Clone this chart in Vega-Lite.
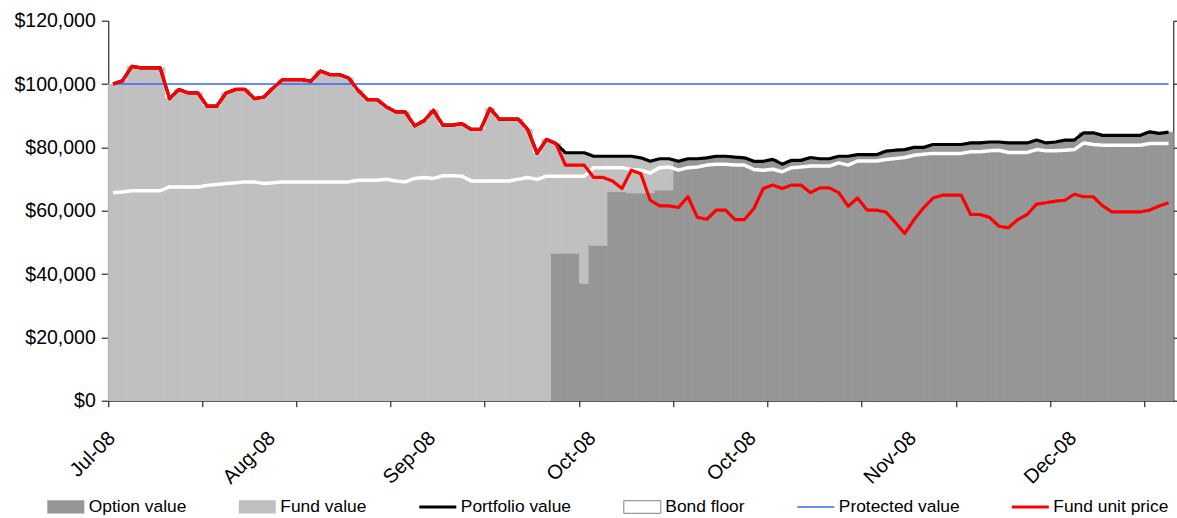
{
  "$schema": "https://vega.github.io/schema/vega-lite/v6.json",
  "width": 1065,
  "height": 380,
  "autosize": "none",
  "padding": {"left": 108.3, "top": 20.7, "right": 3.7, "bottom": 117.3},
  "background": "white",
  "config": {
    "view": {"stroke": null},
    "font": "Liberation Sans",
    "axis": {"grid": false, "domainColor": "#000000", "tickColor": "#000000", "labelColor": "#000000", "domainWidth": 1, "tickWidth": 1, "labelFont": "Liberation Sans"}
  },
  "data": {"values": [
    {"i":0,"price":100000,"port":100000,"bond":65700,"prot":100000,"Option value":0,"Fund value":100000},
    {"i":1,"price":101000,"port":101000,"bond":65900,"prot":100000,"Option value":0,"Fund value":101000},
    {"i":2,"price":105600,"port":105600,"bond":66300,"prot":100000,"Option value":0,"Fund value":105600},
    {"i":3,"price":105100,"port":105100,"bond":66300,"prot":100000,"Option value":0,"Fund value":105100},
    {"i":4,"price":105100,"port":105100,"bond":66300,"prot":100000,"Option value":0,"Fund value":105100},
    {"i":5,"price":105100,"port":105100,"bond":66300,"prot":100000,"Option value":0,"Fund value":105100},
    {"i":6,"price":95400,"port":95400,"bond":67500,"prot":100000,"Option value":0,"Fund value":95400},
    {"i":7,"price":98300,"port":98300,"bond":67500,"prot":100000,"Option value":0,"Fund value":98300},
    {"i":8,"price":97200,"port":97200,"bond":67500,"prot":100000,"Option value":0,"Fund value":97200},
    {"i":9,"price":97200,"port":97200,"bond":67500,"prot":100000,"Option value":0,"Fund value":97200},
    {"i":10,"price":93000,"port":93000,"bond":68000,"prot":100000,"Option value":0,"Fund value":93000},
    {"i":11,"price":93000,"port":93000,"bond":68300,"prot":100000,"Option value":0,"Fund value":93000},
    {"i":12,"price":97200,"port":97200,"bond":68600,"prot":100000,"Option value":0,"Fund value":97200},
    {"i":13,"price":98300,"port":98300,"bond":68800,"prot":100000,"Option value":0,"Fund value":98300},
    {"i":14,"price":98300,"port":98300,"bond":69100,"prot":100000,"Option value":0,"Fund value":98300},
    {"i":15,"price":95400,"port":95400,"bond":69100,"prot":100000,"Option value":0,"Fund value":95400},
    {"i":16,"price":95900,"port":95900,"bond":68600,"prot":100000,"Option value":0,"Fund value":95900},
    {"i":17,"price":98800,"port":98800,"bond":68800,"prot":100000,"Option value":0,"Fund value":98800},
    {"i":18,"price":101400,"port":101400,"bond":69100,"prot":100000,"Option value":0,"Fund value":101400},
    {"i":19,"price":101400,"port":101400,"bond":69100,"prot":100000,"Option value":0,"Fund value":101400},
    {"i":20,"price":101400,"port":101400,"bond":69100,"prot":100000,"Option value":0,"Fund value":101400},
    {"i":21,"price":100900,"port":100900,"bond":69100,"prot":100000,"Option value":0,"Fund value":100900},
    {"i":22,"price":104100,"port":104100,"bond":69100,"prot":100000,"Option value":0,"Fund value":104100},
    {"i":23,"price":103000,"port":103000,"bond":69100,"prot":100000,"Option value":0,"Fund value":103000},
    {"i":24,"price":103000,"port":103000,"bond":69100,"prot":100000,"Option value":0,"Fund value":103000},
    {"i":25,"price":101900,"port":101900,"bond":69100,"prot":100000,"Option value":0,"Fund value":101900},
    {"i":26,"price":98000,"port":98000,"bond":69600,"prot":100000,"Option value":0,"Fund value":98000},
    {"i":27,"price":95100,"port":95100,"bond":69600,"prot":100000,"Option value":0,"Fund value":95100},
    {"i":28,"price":95100,"port":95100,"bond":69600,"prot":100000,"Option value":0,"Fund value":95100},
    {"i":29,"price":92800,"port":92800,"bond":69900,"prot":100000,"Option value":0,"Fund value":92800},
    {"i":30,"price":91200,"port":91200,"bond":69400,"prot":100000,"Option value":0,"Fund value":91200},
    {"i":31,"price":91200,"port":91200,"bond":69100,"prot":100000,"Option value":0,"Fund value":91200},
    {"i":32,"price":86800,"port":86800,"bond":70200,"prot":100000,"Option value":0,"Fund value":86800},
    {"i":33,"price":88400,"port":88400,"bond":70500,"prot":100000,"Option value":0,"Fund value":88400},
    {"i":34,"price":91700,"port":91700,"bond":70200,"prot":100000,"Option value":0,"Fund value":91700},
    {"i":35,"price":87000,"port":87000,"bond":71000,"prot":100000,"Option value":0,"Fund value":87000},
    {"i":36,"price":87000,"port":87000,"bond":71000,"prot":100000,"Option value":0,"Fund value":87000},
    {"i":37,"price":87500,"port":87500,"bond":70900,"prot":100000,"Option value":0,"Fund value":87500},
    {"i":38,"price":85700,"port":85700,"bond":69400,"prot":100000,"Option value":0,"Fund value":85700},
    {"i":39,"price":85700,"port":85700,"bond":69400,"prot":100000,"Option value":0,"Fund value":85700},
    {"i":40,"price":92300,"port":92300,"bond":69400,"prot":100000,"Option value":0,"Fund value":92300},
    {"i":41,"price":88900,"port":88900,"bond":69400,"prot":100000,"Option value":0,"Fund value":88900},
    {"i":42,"price":88900,"port":88900,"bond":69400,"prot":100000,"Option value":0,"Fund value":88900},
    {"i":43,"price":88900,"port":88900,"bond":69900,"prot":100000,"Option value":0,"Fund value":88900},
    {"i":44,"price":85700,"port":85700,"bond":70500,"prot":100000,"Option value":0,"Fund value":85700},
    {"i":45,"price":78100,"port":78100,"bond":69900,"prot":100000,"Option value":0,"Fund value":78100},
    {"i":46,"price":82500,"port":82500,"bond":70900,"prot":100000,"Option value":0,"Fund value":82500},
    {"i":47,"price":81200,"port":81200,"bond":70900,"prot":100000,"Option value":46600,"Fund value":34600},
    {"i":48,"price":74400,"port":78300,"bond":70900,"prot":100000,"Option value":46600,"Fund value":31700},
    {"i":49,"price":74400,"port":78300,"bond":70900,"prot":100000,"Option value":46600,"Fund value":31700},
    {"i":50,"price":74400,"port":78300,"bond":70900,"prot":100000,"Option value":37100,"Fund value":41200},
    {"i":51,"price":70500,"port":77200,"bond":73600,"prot":100000,"Option value":49100,"Fund value":28100},
    {"i":52,"price":70500,"port":77200,"bond":73600,"prot":100000,"Option value":49100,"Fund value":28100},
    {"i":53,"price":69400,"port":77200,"bond":73600,"prot":100000,"Option value":66000,"Fund value":11200},
    {"i":54,"price":67000,"port":77200,"bond":73600,"prot":100000,"Option value":66000,"Fund value":11200},
    {"i":55,"price":72800,"port":77200,"bond":73000,"prot":100000,"Option value":65600,"Fund value":11600},
    {"i":56,"price":71700,"port":76700,"bond":72800,"prot":100000,"Option value":65600,"Fund value":11100},
    {"i":57,"price":63300,"port":75600,"bond":71900,"prot":100000,"Option value":65600,"Fund value":10000},
    {"i":58,"price":61500,"port":76400,"bond":73600,"prot":100000,"Option value":66500,"Fund value":9900},
    {"i":59,"price":61500,"port":76400,"bond":73800,"prot":100000,"Option value":66500,"Fund value":9900},
    {"i":60,"price":61000,"port":75600,"bond":72800,"prot":100000,"Option value":75600,"Fund value":0},
    {"i":61,"price":64400,"port":76400,"bond":73600,"prot":100000,"Option value":76400,"Fund value":0},
    {"i":62,"price":57900,"port":76400,"bond":73800,"prot":100000,"Option value":76400,"Fund value":0},
    {"i":63,"price":57300,"port":76700,"bond":74400,"prot":100000,"Option value":76700,"Fund value":0},
    {"i":64,"price":60200,"port":77200,"bond":74700,"prot":100000,"Option value":77200,"Fund value":0},
    {"i":65,"price":60200,"port":77200,"bond":74700,"prot":100000,"Option value":77200,"Fund value":0},
    {"i":66,"price":57200,"port":76900,"bond":74400,"prot":100000,"Option value":76900,"Fund value":0},
    {"i":67,"price":57200,"port":76700,"bond":74400,"prot":100000,"Option value":76700,"Fund value":0},
    {"i":68,"price":60700,"port":75600,"bond":73000,"prot":100000,"Option value":75600,"Fund value":0},
    {"i":69,"price":67000,"port":75600,"bond":72800,"prot":100000,"Option value":75600,"Fund value":0},
    {"i":70,"price":68100,"port":76200,"bond":73100,"prot":100000,"Option value":76200,"Fund value":0},
    {"i":71,"price":67000,"port":74700,"bond":72300,"prot":100000,"Option value":74700,"Fund value":0},
    {"i":72,"price":68100,"port":75900,"bond":73600,"prot":100000,"Option value":75900,"Fund value":0},
    {"i":73,"price":68100,"port":75900,"bond":73800,"prot":100000,"Option value":75900,"Fund value":0},
    {"i":74,"price":65700,"port":76800,"bond":74100,"prot":100000,"Option value":76800,"Fund value":0},
    {"i":75,"price":67200,"port":76400,"bond":74100,"prot":100000,"Option value":76400,"Fund value":0},
    {"i":76,"price":67200,"port":76400,"bond":74100,"prot":100000,"Option value":76400,"Fund value":0},
    {"i":77,"price":65700,"port":77200,"bond":75100,"prot":100000,"Option value":77200,"Fund value":0},
    {"i":78,"price":61400,"port":77200,"bond":74400,"prot":100000,"Option value":77200,"Fund value":0},
    {"i":79,"price":64000,"port":77700,"bond":75700,"prot":100000,"Option value":77700,"Fund value":0},
    {"i":80,"price":60200,"port":77700,"bond":75700,"prot":100000,"Option value":77700,"Fund value":0},
    {"i":81,"price":60200,"port":77700,"bond":75700,"prot":100000,"Option value":77700,"Fund value":0},
    {"i":82,"price":59600,"port":78800,"bond":76200,"prot":100000,"Option value":78800,"Fund value":0},
    {"i":83,"price":56300,"port":79100,"bond":76500,"prot":100000,"Option value":79100,"Fund value":0},
    {"i":84,"price":52800,"port":79300,"bond":76800,"prot":100000,"Option value":79300,"Fund value":0},
    {"i":85,"price":57200,"port":80000,"bond":77500,"prot":100000,"Option value":80000,"Fund value":0},
    {"i":86,"price":60900,"port":80000,"bond":77800,"prot":100000,"Option value":80000,"Fund value":0},
    {"i":87,"price":64000,"port":80900,"bond":78100,"prot":100000,"Option value":80900,"Fund value":0},
    {"i":88,"price":64900,"port":80900,"bond":78100,"prot":100000,"Option value":80900,"Fund value":0},
    {"i":89,"price":64900,"port":80900,"bond":78100,"prot":100000,"Option value":80900,"Fund value":0},
    {"i":90,"price":64900,"port":80900,"bond":78100,"prot":100000,"Option value":80900,"Fund value":0},
    {"i":91,"price":58800,"port":81400,"bond":78600,"prot":100000,"Option value":81400,"Fund value":0},
    {"i":92,"price":58800,"port":81400,"bond":78600,"prot":100000,"Option value":81400,"Fund value":0},
    {"i":93,"price":57900,"port":81700,"bond":78900,"prot":100000,"Option value":81700,"Fund value":0},
    {"i":94,"price":55100,"port":81700,"bond":79100,"prot":100000,"Option value":81700,"Fund value":0},
    {"i":95,"price":54600,"port":81400,"bond":78400,"prot":100000,"Option value":81400,"Fund value":0},
    {"i":96,"price":57200,"port":81400,"bond":78400,"prot":100000,"Option value":81400,"Fund value":0},
    {"i":97,"price":58800,"port":81400,"bond":78400,"prot":100000,"Option value":81400,"Fund value":0},
    {"i":98,"price":62100,"port":82300,"bond":79300,"prot":100000,"Option value":82300,"Fund value":0},
    {"i":99,"price":62500,"port":81400,"bond":78900,"prot":100000,"Option value":81400,"Fund value":0},
    {"i":100,"price":63000,"port":81700,"bond":78900,"prot":100000,"Option value":81700,"Fund value":0},
    {"i":101,"price":63300,"port":82300,"bond":79100,"prot":100000,"Option value":82300,"Fund value":0},
    {"i":102,"price":65200,"port":82300,"bond":79300,"prot":100000,"Option value":82300,"Fund value":0},
    {"i":103,"price":64400,"port":84600,"bond":81400,"prot":100000,"Option value":84600,"Fund value":0},
    {"i":104,"price":64400,"port":84600,"bond":80900,"prot":100000,"Option value":84600,"Fund value":0},
    {"i":105,"price":61500,"port":83800,"bond":80700,"prot":100000,"Option value":83800,"Fund value":0},
    {"i":106,"price":59600,"port":83800,"bond":80700,"prot":100000,"Option value":83800,"Fund value":0},
    {"i":107,"price":59600,"port":83800,"bond":80700,"prot":100000,"Option value":83800,"Fund value":0},
    {"i":108,"price":59600,"port":83800,"bond":80700,"prot":100000,"Option value":83800,"Fund value":0},
    {"i":109,"price":59600,"port":83800,"bond":80700,"prot":100000,"Option value":83800,"Fund value":0},
    {"i":110,"price":60200,"port":84900,"bond":81200,"prot":100000,"Option value":84900,"Fund value":0},
    {"i":111,"price":61500,"port":84400,"bond":81200,"prot":100000,"Option value":84400,"Fund value":0},
    {"i":112,"price":62500,"port":84800,"bond":81200,"prot":100000,"Option value":84800,"Fund value":0}
  ]},
  "encoding": {
    "x": {
      "field": "i", "type": "ordinal", "title": null,
      "scale": {"type": "band", "paddingInner": 0, "paddingOuter": 0},
      "axis": {
        "title": null,
        "orient": "bottom",
        "values": [0,10,17,20,30,34,40,50,51,60,68,70,80,85,90,100,102,110],
        "bandPosition": 0,
        "tickSize": 6,
        "tickOpacity": {"condition": {"test": "datum.value % 10 === 0", "value": 1}, "value": 0},
        "labelExpr": "datum.value === 0 ? 'Jul-08' : datum.value === 17 ? 'Aug-08' : datum.value === 34 ? 'Sep-08' : datum.value === 51 ? 'Oct-08' : datum.value === 68 ? 'Oct-08' : datum.value === 85 ? 'Nov-08' : datum.value === 102 ? 'Dec-08' : ''",
        "labelAngle": -45,
        "labelAlign": "right",
        "labelBaseline": "middle",
        "labelFontSize": 20,
        "labelPadding": 28,
        "labelOffset": -1,
        "labelOverlap": false,
        "labelFlush": false,
        "labelBound": false
      }
    }
  },
  "layer": [
    {
      "transform": [
        {"fold": ["Option value", "Fund value"], "as": ["series", "amount"]},
        {"filter": "datum.amount > 0"}
      ],
      "mark": {"type": "bar", "strokeWidth": 0.8},
      "encoding": {
        "y": {
          "field": "amount", "type": "quantitative", "stack": "zero",
          "scale": {"domain": [0, 120000], "nice": false},
          "axis": {"orient": "left", "title": null, "values": [0,20000,40000,60000,80000,100000,120000], "format": "$,.0f", "labelFontSize": 19.5, "tickSize": 7, "labelPadding": 6}
        },
        "fill": {
          "field": "series", "type": "nominal",
          "scale": {"domain": ["Option value", "Fund value", "Portfolio value", "Bond floor", "Protected value", "Fund unit price"], "range": ["#969696", "#C0C0C0", "#000000", "#FFFFFF", "#3366FF", "#FF0000"]},
          "legend": {
            "orient": "none", "legendX": -61.5, "legendY": 467,
            "direction": "horizontal", "columns": 6, "columnPadding": 49.5,
            "title": null, "padding": 0,
            "labelFont": "Liberation Sans", "labelFontSize": 17.4, "labelColor": "#000000", "labelOffset": 4, "labelLimit": 300,
            "symbolSize": 1369, "symbolStrokeWidth": 1, "symbolOpacity": 1,
            "symbolType": {"expr": "(datum.value === 'Option value' || datum.value === 'Fund value') ? 'M-1,-0.36H1V0.36H-1Z' : datum.value === 'Bond floor' ? 'M-1,-0.34H1V0.34H-1Z' : datum.value === 'Protected value' ? 'M-1,-0.04H1V0.04H-1Z' : 'M-1,-0.085H1V0.085H-1Z'"},
            "symbolStrokeColor": {"expr": "datum.value === 'Bond floor' ? '#808080' : 'transparent'"}
          }
        },
        "stroke": {"condition": {"test": "datum.series === 'Option value'", "value": "#969696"}, "value": "#C0C0C0"},
        "order": {"field": "series", "sort": "descending"}
      }
    },
    {
      "mark": {"type": "line", "stroke": "#FFFFFF", "strokeWidth": 3.5, "strokeJoin": "round"},
      "encoding": {
        "y": {"field": "bond", "type": "quantitative", "scale": {"domain": [0, 120000], "nice": false}, "axis": null}
      }
    },
    {
      "mark": {"type": "line", "stroke": "#000000", "strokeWidth": 3.2, "strokeJoin": "round"},
      "encoding": {
        "y": {"field": "port", "type": "quantitative", "scale": {"domain": [0, 120000], "nice": false}, "axis": null}
      }
    },
    {
      "mark": {"type": "line", "stroke": "#3366FF", "strokeWidth": 1.5},
      "encoding": {
        "y": {"field": "prot", "type": "quantitative", "scale": {"domain": [0, 120000], "nice": false}, "axis": null}
      }
    },
    {
      "mark": {"type": "line", "stroke": "#FF0000", "strokeWidth": 3.2, "strokeJoin": "round"},
      "encoding": {
        "y": {"field": "price", "type": "quantitative", "scale": {"domain": [0, 120000], "nice": false}, "axis": {"orient": "right", "title": null, "values": [0,20000,40000,60000,80000,100000,120000], "labels": false, "tickSize": 5}}
      }
    }
  ],
  "resolve": {"axis": {"y": "independent"}}
}
